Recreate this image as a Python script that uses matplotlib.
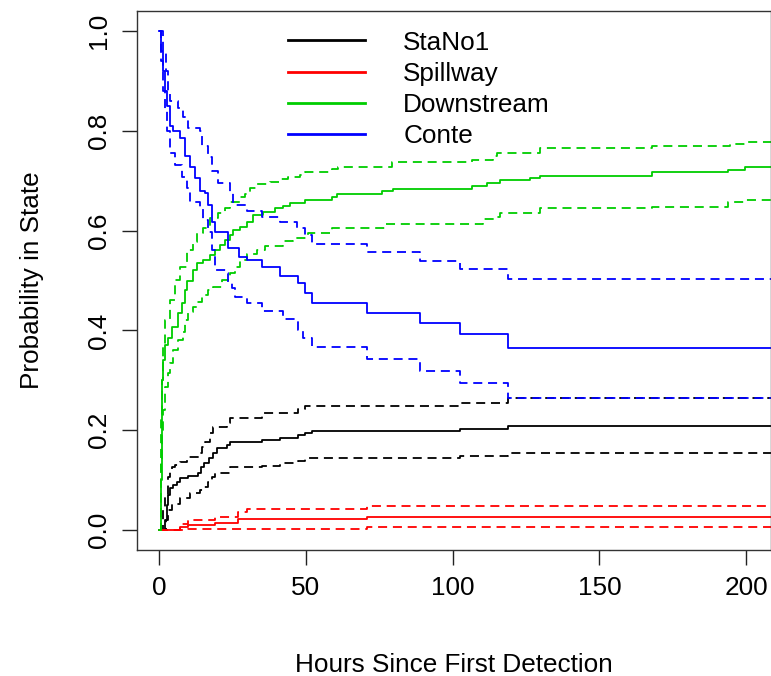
import numpy as np
import matplotlib
matplotlib.use("Agg")
import matplotlib.pyplot as plt

plt.rcParams['font.family'] = ['Liberation Sans', 'DejaVu Sans']

# ---------------- data (hours, probability in state) ----------------
end_time = 210

stano_t = [0, 2.0, 2.7, 3.1, 3.7, 4.8, 6.1, 7.2, 9.9, 13.3, 14.3, 15.3, 17.0, 18.4, 19.8, 23.2, 24.2, 35.1, 41.2, 47.4, 49.7, 52.1, 102.6, 118.9]
stano_p = [0, 0.02, 0.05, 0.07, 0.084, 0.09, 0.096, 0.104, 0.108, 0.114, 0.126, 0.134, 0.144, 0.154, 0.164, 0.170, 0.176, 0.180, 0.184, 0.190, 0.194, 0.198, 0.203, 0.208]
stano_hi_t = [0, 1.4, 2.0, 3.1, 3.7, 4.4, 5.5, 7.2, 9.5, 14.0, 14.7, 15.7, 17.4, 18.4, 23.2, 24.2, 35.1, 47.4, 49.7, 102.6, 118.9]
stano_hi_p = [0, 0.04, 0.07, 0.106, 0.116, 0.126, 0.13, 0.136, 0.146, 0.154, 0.166, 0.176, 0.194, 0.206, 0.214, 0.224, 0.234, 0.242, 0.248, 0.255, 0.265]
stano_lo_t = [0, 2.4, 3.1, 4.4, 7.2, 10.6, 14.0, 15.0, 16.7, 18.1, 19.1, 24.2, 35.1, 41.2, 47.4, 49.7, 102.6, 118.9]
stano_lo_p = [0, 0.02, 0.04, 0.052, 0.064, 0.074, 0.08, 0.086, 0.096, 0.106, 0.114, 0.126, 0.128, 0.134, 0.138, 0.144, 0.148, 0.154]

spill_t = [0, 7.2, 9.9, 19.1, 27.0, 70.8]
spill_p = [0, 0.006, 0.010, 0.014, 0.022, 0.026]
spill_hi_t = [0, 7.2, 9.9, 19.1, 27.0, 30.0, 70.8]
spill_hi_p = [0, 0.012, 0.020, 0.026, 0.036, 0.042, 0.048]
spill_lo_t = [0, 9.9, 70.8]
spill_lo_p = [0, 0.002, 0.006]

down_t = [0, 0.7, 0.85, 1.0, 1.4, 2.0, 3.1, 4.4, 6.5, 7.8, 8.9, 9.5, 11.6, 12.9, 15.0, 17.4, 19.1, 20.8, 22.5, 24.2, 25.2, 27.6, 30.0, 32.0, 35.4, 39.5, 42.2, 44.6, 49.7, 58.9, 60.6, 76.0, 79.7, 106.6, 111.7, 116.1, 126.3, 129.7, 168.0, 193.9, 199.7]
down_p = [0, 0.10, 0.22, 0.30, 0.34, 0.37, 0.385, 0.407, 0.435, 0.455, 0.48, 0.50, 0.521, 0.535, 0.541, 0.551, 0.561, 0.571, 0.581, 0.591, 0.601, 0.607, 0.617, 0.631, 0.637, 0.645, 0.649, 0.655, 0.661, 0.667, 0.673, 0.679, 0.683, 0.689, 0.695, 0.701, 0.706, 0.709, 0.717, 0.721, 0.727]
down_hi_t = [0, 0.7, 1.0, 1.4, 2.0, 3.7, 5.5, 7.2, 9.5, 11.6, 12.9, 15.0, 17.4, 20.1, 22.5, 24.2, 27.6, 29.3, 31.0, 33.4, 37.8, 41.2, 43.9, 48.0, 49.7, 58.9, 60.9, 79.4, 106.6, 113.8, 115.1, 129.7, 168.0, 194.5, 199.7]
down_hi_p = [0, 0.22, 0.30, 0.37, 0.42, 0.461, 0.501, 0.527, 0.561, 0.577, 0.595, 0.605, 0.625, 0.635, 0.645, 0.657, 0.667, 0.673, 0.685, 0.693, 0.697, 0.703, 0.707, 0.711, 0.717, 0.723, 0.727, 0.737, 0.741, 0.749, 0.756, 0.765, 0.769, 0.774, 0.778]
down_lo_t = [0, 0.7, 1.0, 1.4, 2.0, 3.1, 3.7, 4.8, 6.5, 8.2, 8.9, 9.9, 11.6, 12.9, 14.7, 16.7, 18.4, 21.5, 24.2, 25.9, 27.6, 30.0, 33.4, 36.1, 42.2, 45.6, 50.8, 58.9, 76.9, 110.4, 115.1, 116.1, 129.7, 168.0, 193.9, 200.0]
down_lo_p = [0, 0.14, 0.20, 0.24, 0.287, 0.315, 0.335, 0.361, 0.381, 0.397, 0.421, 0.437, 0.447, 0.457, 0.471, 0.481, 0.487, 0.501, 0.515, 0.527, 0.541, 0.553, 0.561, 0.569, 0.579, 0.585, 0.595, 0.605, 0.613, 0.623, 0.627, 0.635, 0.645, 0.648, 0.657, 0.661]

conte_t = [0, 0.7, 1.4, 2.0, 2.7, 3.7, 4.8, 7.2, 8.9, 10.6, 12.3, 14.0, 15.7, 16.7, 18.1, 19.1, 23.5, 27.3, 30.0, 35.1, 41.2, 47.4, 49.7, 52.1, 70.8, 88.9, 102.6, 118.9]
conte_p = [1.0, 0.96, 0.92, 0.88, 0.85, 0.81, 0.80, 0.785, 0.75, 0.727, 0.705, 0.68, 0.675, 0.651, 0.617, 0.597, 0.565, 0.547, 0.541, 0.527, 0.509, 0.495, 0.475, 0.455, 0.435, 0.415, 0.393, 0.365]
conte_hi_t = [0, 1.4, 2.4, 3.1, 3.7, 6.5, 8.2, 9.9, 13.9, 14.7, 16.7, 18.1, 20.1, 24.2, 25.2, 30.0, 35.1, 41.2, 47.0, 49.7, 52.1, 70.8, 88.9, 102.6, 118.9]
conte_hi_p = [1.0, 0.96, 0.92, 0.88, 0.86, 0.846, 0.828, 0.806, 0.80, 0.77, 0.747, 0.72, 0.695, 0.675, 0.651, 0.639, 0.627, 0.617, 0.605, 0.591, 0.573, 0.557, 0.539, 0.523, 0.503]
conte_lo_t = [0, 0.7, 1.4, 2.0, 2.7, 3.7, 5.5, 7.8, 9.5, 10.6, 14.0, 15.0, 16.7, 18.1, 19.1, 23.2, 23.5, 24.9, 25.9, 30.0, 35.1, 42.2, 47.4, 49.1, 52.1, 70.8, 88.9, 102.6, 118.9]
conte_lo_p = [1.0, 0.94, 0.88, 0.84, 0.80, 0.755, 0.731, 0.707, 0.685, 0.657, 0.645, 0.621, 0.597, 0.561, 0.521, 0.515, 0.495, 0.485, 0.467, 0.455, 0.439, 0.423, 0.40, 0.385, 0.367, 0.343, 0.319, 0.295, 0.265]

states = ["StaNo1", "Spillway", "Downstream", "Conte"]
colors = ["#000000", "#FF0000", "#00CD00", "#0000FF"]
series = [
    (stano_t, stano_p, stano_hi_t, stano_hi_p, stano_lo_t, stano_lo_p),
    (spill_t, spill_p, spill_hi_t, spill_hi_p, spill_lo_t, spill_lo_p),
    (down_t, down_p, down_hi_t, down_hi_p, down_lo_t, down_lo_p),
    (conte_t, conte_p, conte_hi_t, conte_hi_p, conte_lo_t, conte_lo_p),
]
x_ticks = [0, 50, 100, 150, 200]
y_ticks = [0.0, 0.2, 0.4, 0.6, 0.8, 1.0]

# ---------------- figure ----------------
W, H = 771, 676
fig = plt.figure(figsize=(W / 100, H / 100), dpi=100)
ax = fig.add_axes([137 / W, (H - 550) / H, (770.5 - 137) / W, (550 - 11) / H])

FS = 18.8
lw = 1.3
dash = (0, (5.0, 3.2))


def ext(t, p):
    return list(t) + [end_time], list(p) + [p[-1]]


handles = []
for name, col, (t, p, th, ph, tl, pl) in zip(states, colors, series):
    x, y = ext(t, p)
    h, = ax.plot(x, y, drawstyle='steps-post', color=col, lw=lw, label=name)
    handles.append(h)
    x, y = ext(th, ph)
    ax.plot(x, y, drawstyle='steps-post', color=col, lw=lw, linestyle=dash)
    x, y = ext(tl, pl)
    ax.plot(x, y, drawstyle='steps-post', color=col, lw=lw, linestyle=dash)

ax.set_xlim(-7.5, 208.3)
ax.set_ylim(-0.04, 1.04)
ax.set_xticks(x_ticks)
ax.set_xticklabels([str(v) for v in x_ticks])
ax.set_yticks(y_ticks)
ax.set_yticklabels([f"{v:.1f}" for v in y_ticks], rotation=90, va='center')
ax.tick_params(axis='both', length=11, width=1.0, color='#222222', labelsize=FS)
ax.tick_params(axis='x', pad=8)
ax.tick_params(axis='y', pad=8)
for s in ax.spines.values():
    s.set_color('#333333')
    s.set_linewidth(1.0)

ax.set_xlabel("Hours Since First Detection", fontsize=FS, labelpad=38)
ax.set_ylabel("Probability in State", fontsize=FS, labelpad=31)

leg = ax.legend(handles=handles, labels=states, loc='upper left',
                bbox_to_anchor=(288 / W, (H - 30.5) / H), bbox_transform=fig.transFigure,
                frameon=False, fontsize=FS, handlelength=2.95, handletextpad=1.46,
                labelspacing=0.28, borderpad=0, borderaxespad=0)
for lh in leg.get_lines():
    lh.set_linewidth(2.0)

fig.savefig("out.png", dpi=100)
